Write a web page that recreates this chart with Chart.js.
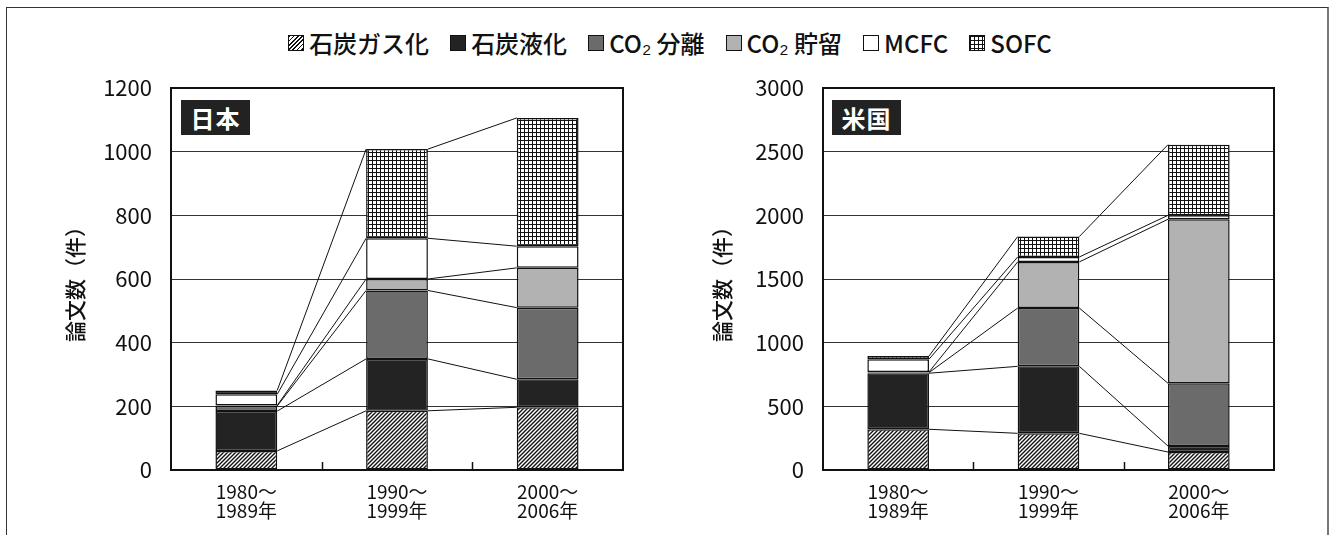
<!DOCTYPE html>
<html lang="ja">
<head>
<meta charset="utf-8">
<title>論文数（件）</title>
<script src="https://cdn.jsdelivr.net/npm/chart.js@4.4.1/dist/chart.umd.min.js"></script>
<style>
  html, body { margin: 0; padding: 0; background: #fff; }
  body { width: 1335px; height: 535px; position: relative; overflow: hidden;
         font-family: "Noto Sans CJK JP", sans-serif; color: #111; }
  .frame { position: absolute; left: 6px; top: 7px; width: 1323px; height: 600px;
           border: 1.5px solid #333; border-right: 2px solid #777; box-sizing: border-box; }
  #legend { position: absolute; left: 0; top: 27px; width: 1340px; display: flex;
            justify-content: center; align-items: center; font-size: 24px; line-height: 32px; font-weight: 500; }
  #legend .item { display: flex; align-items: center; margin: 0 10.5px; }
  #legend .sw { width: 16px; height: 16px; border: 1px solid #111; margin-right: 5px; box-sizing: border-box; }
  .badge { position: absolute; top: 100px; width: 69px; height: 35px; background: #222; color: #fff;
           font-size: 24px; font-weight: bold; line-height: 35px; text-align: center; letter-spacing: 1px; }
  canvas { position: absolute; top: 0; }
</style>
</head>
<body>
<div class="frame"></div>
<div id="legend"></div>
<canvas id="jp" width="650" height="535" style="left:0"></canvas>
<canvas id="us" width="683" height="535" style="left:652px"></canvas>
<div class="badge" style="left:181px">日本</div>
<div class="badge" style="left:832px">米国</div>
<script>
// periods on the x axis
const categories = [["1980～", "1989年"], ["1990～", "1999年"], ["2000～", "2006年"]];
const seriesNames = ["石炭ガス化", "石炭液化", "CO₂ 分離", "CO₂ 貯留", "MCFC", "SOFC"];

// 日本 (papers per period)
const jpGas = [60, 186, 197];
const jpLiq = [125, 163, 88];
const jpSep = [16, 215, 225];
const jpStore = [2, 36, 125];
const jpMcfc = [35, 128, 68];
const jpSofc = [12, 280, 403];

// 米国
const usGas = [320, 288, 141];
const usLiq = [440, 526, 47];
const usSep = [5, 458, 493];
const usStore = [5, 362, 1288];
const usMcfc = [100, 39, 31];
const usSofc = [25, 160, 555];

const jpTicks = { max: 1200, step: 200 };
const usTicks = { max: 3000, step: 500 };

const FONT = "'Noto Sans CJK JP', sans-serif";

function makePattern(kind) {
  const s = 4;
  const c = document.createElement("canvas");
  c.width = s; c.height = s;
  const g = c.getContext("2d");
  g.fillStyle = "#fff";
  g.fillRect(0, 0, s, s);
  g.strokeStyle = "#111";
  g.beginPath();
  if (kind === "hatch") {
    g.lineWidth = 1.4;
    g.moveTo(-1, s + 1); g.lineTo(s + 1, -1);
    g.moveTo(-1, 1); g.lineTo(1, -1);
    g.moveTo(s - 1, s + 1); g.lineTo(s + 1, s - 1);
  } else {
    g.lineWidth = 1;
    g.moveTo(0, 0.5); g.lineTo(s, 0.5);
    g.moveTo(0.5, 0); g.lineTo(0.5, s);
  }
  g.stroke();
  return g.createPattern(c, "repeat");
}

const fills = [makePattern("hatch"), "#232323", "#6b6b6b", "#b2b2b2", "#ffffff", makePattern("grid")];
const swatchCss = [
  "background: repeating-linear-gradient(135deg, #111 0 1.2px, #fff 1.2px 3px)",
  "background: #232323",
  "background: #6b6b6b",
  "background: #b2b2b2",
  "background: #fff",
  "background-color:#fff; background-image: linear-gradient(#111 1px, transparent 1px), linear-gradient(90deg, #111 1px, transparent 1px); background-size: 4px 4px"
];

// legend row
const legend = document.getElementById("legend");
seriesNames.forEach((name, i) => {
  const item = document.createElement("div");
  item.className = "item";
  item.innerHTML = '<span class="sw" style="' + swatchCss[i] + '"></span><span>' + name + "</span>";
  legend.appendChild(item);
});

// lines joining each segment top between neighbouring bars, plus frame and inner ticks
const decorations = {
  id: "decorations",
  afterDatasetsDraw(chart) {
    const ctx = chart.ctx;
    ctx.save();
    ctx.strokeStyle = "#111";
    ctx.lineWidth = 1;
    chart.data.datasets.forEach((ds, k) => {
      const bars = chart.getDatasetMeta(k).data;
      for (let i = 0; i < bars.length - 1; i++) {
        const a = bars[i], b = bars[i + 1];
        ctx.beginPath();
        ctx.moveTo(a.x + a.width / 2, a.y);
        ctx.lineTo(b.x - b.width / 2, b.y);
        ctx.stroke();
      }
    });
    const area = chart.chartArea;
    const xs = chart.scales.x;
    ctx.lineWidth = 1.5;
    for (let i = 0; i < categories.length - 1; i++) {
      const x = Math.round((xs.getPixelForValue(i) + xs.getPixelForValue(i + 1)) / 2) + 0.5;
      ctx.beginPath();
      ctx.moveTo(x, area.bottom);
      ctx.lineTo(x, area.bottom - 8);
      ctx.stroke();
    }
    ctx.lineWidth = 2;
    ctx.strokeRect(area.left, area.top, area.right - area.left, area.bottom - area.top);
    ctx.restore();
  }
};

function buildChart(id, series, ticks, padRight, titleOffset) {
  return new Chart(document.getElementById(id), {
    type: "bar",
    data: {
      labels: categories,
      datasets: series.map((values, i) => ({
        label: seriesNames[i],
        data: values,
        backgroundColor: fills[i],
        borderColor: "#111",
        borderWidth: 1.5,
        borderSkipped: false,
        barPercentage: 0.41,
        categoryPercentage: 1
      }))
    },
    options: {
      responsive: false,
      animation: false,
      layout: { padding: { left: 0, top: 88, right: padRight, bottom: 10 } },
      plugins: { legend: { display: false }, tooltip: { enabled: false } },
      scales: {
        x: {
          stacked: true,
          grid: { display: false },
          border: { display: false },
          ticks: { color: "#111", padding: 4, font: { family: FONT, size: 19, lineHeight: 1.0 } },
          afterFit: (scale) => { scale.height = 55; }
        },
        y: {
          stacked: true,
          min: 0,
          max: ticks.max,
          grid: { color: "#333", lineWidth: 1, drawTicks: false },
          border: { display: false },
          ticks: {
            stepSize: ticks.step,
            color: "#111",
            padding: 19,
            font: { family: FONT, size: 22 },
            callback: (v) => String(v)
          },
          title: {
            display: true,
            text: "論文数（件）",
            color: "#111",
            font: { family: FONT, size: 21, lineHeight: 1.2, weight: 500 },
            padding: { top: titleOffset, bottom: 0 }
          },
          afterFit: (scale) => { scale.width = 171; }
        }
      }
    },
    plugins: [decorations]
  });
}

buildChart("jp", [jpGas, jpLiq, jpSep, jpStore, jpMcfc, jpSofc], jpTicks, 27, 62);
buildChart("us", [usGas, usLiq, usSep, usStore, usMcfc, usSofc], usTicks, 61, 57);
</script>
</body>
</html>
